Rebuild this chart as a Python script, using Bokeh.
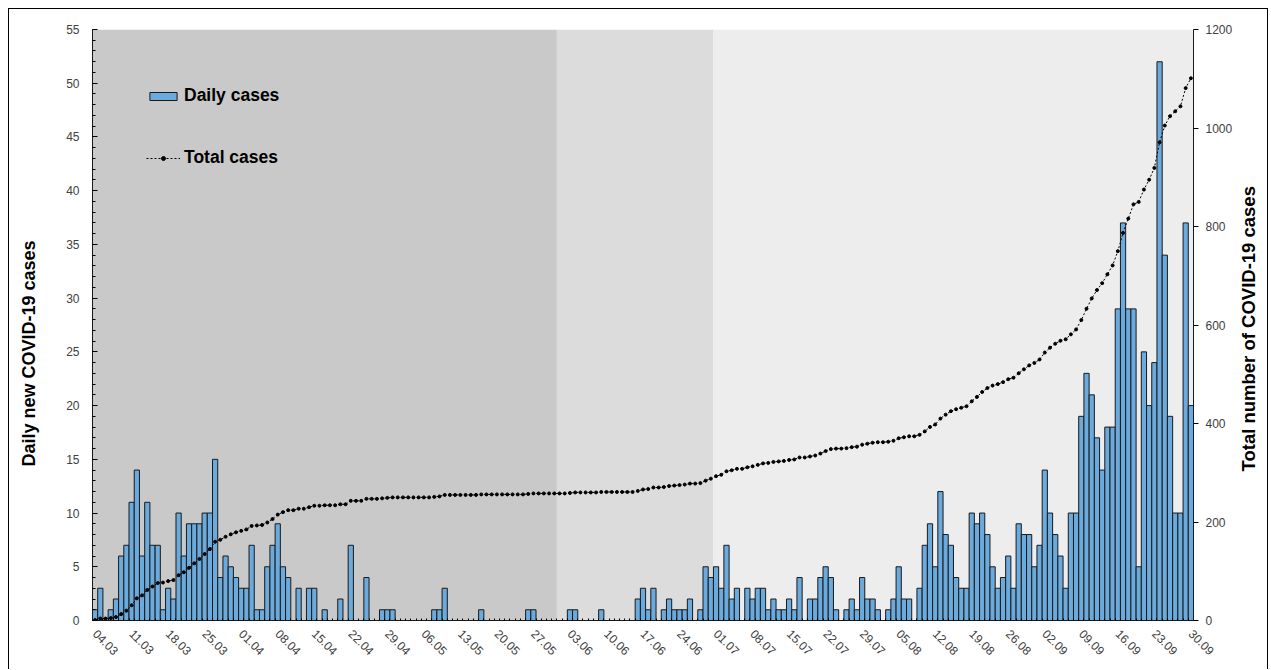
import numpy as np
from datetime import date, timedelta
from bokeh.plotting import figure
from bokeh.layouts import row
from bokeh.models import (Range1d, LinearAxis, FixedTicker, SingleIntervalTicker,
                          BoxAnnotation, Legend, LegendItem, Title)
from bokeh.embed import file_html
from bokeh.resources import INLINE

# ---- data ----
start_date = date(2020, 3, 4)
daily_march = [1, 3, 0, 1, 2, 6, 7, 11, 14, 6, 11, 7, 7, 1, 3, 2, 10, 6, 9, 9, 9, 10, 10, 15, 4, 6, 5, 4]  # 04.03-31.03
daily_april = [3, 3, 7, 1, 1, 5, 7, 9, 5, 4, 0, 3, 0, 3, 3, 0, 1, 0, 0, 2, 0, 7, 0, 0, 4, 0, 0, 1, 1, 1]
daily_may = [0, 0, 0, 0, 0, 0, 0, 1, 1, 3, 0, 0, 0, 0, 0, 0, 1, 0, 0, 0, 0, 0, 0, 0, 0, 1, 1, 0, 0, 0, 0]
daily_june = [0, 0, 1, 1, 0, 0, 0, 0, 1, 0, 0, 0, 0, 0, 0, 2, 3, 1, 3, 0, 1, 2, 1, 1, 1, 2, 0, 1, 5, 4]
daily_july = [5, 3, 7, 2, 3, 0, 3, 2, 3, 3, 1, 2, 1, 1, 2, 1, 4, 0, 2, 2, 4, 5, 4, 1, 0, 1, 2, 1, 4, 2, 2]
daily_august = [1, 0, 1, 2, 5, 2, 2, 0, 3, 7, 9, 5, 12, 8, 7, 4, 3, 3, 10, 9, 10, 8, 5, 3, 4, 6, 3, 9, 8, 8, 5]
daily_september = [7, 14, 10, 8, 6, 3, 10, 10, 19, 23, 21, 17, 14, 18, 18, 29, 37, 29, 29, 5, 25, 20, 24, 52,
                   34, 19, 10, 10, 37, 20]

phase_starts = ["04.03", "01.06", "01.07"]
phase_colors = ["#C9C9C9", "#DCDCDC", "#ECEDEC"]

left_title = "Daily new COVID-19 cases"
right_title = "Total number of COVID-19 cases"

daily = (daily_march + daily_april + daily_may + daily_june + daily_july
         + daily_august + daily_september)
n = len(daily)
day_labels = [(start_date + timedelta(days=i)).strftime("%d.%m") for i in range(n)]
total = np.cumsum(daily)
idx = np.arange(n)

FONT = "Liberation Sans"

p = figure(width=1226, height=660, output_backend="svg", toolbar_location=None,
           x_range=Range1d(-0.5, n - 0.5), y_range=Range1d(0, 55),
           min_border_left=83, min_border_right=39, min_border_top=20, min_border_bottom=49)
p.extra_y_ranges = {"total": Range1d(0, 1200)}
p.outline_line_color = None
p.xgrid.visible = False
p.ygrid.visible = False
p.background_fill_color = "white"
p.border_fill_color = "white"

# background phases
bounds = [day_labels.index(s) - 0.5 for s in phase_starts] + [n - 0.5]
for k, col in enumerate(phase_colors):
    p.add_layout(BoxAnnotation(left=bounds[k], right=bounds[k + 1], fill_color=col,
                               fill_alpha=1.0, line_color=None, level="underlay"))

bars = p.vbar(x=idx, top=daily, width=1.0, fill_color="#6AAADC", line_color="#1A1A1A",
              line_width=1)
line = p.line(idx, total, y_range_name="total", line_color="black", line_dash="2 2",
              line_width=1)
dots = p.scatter(idx, total, y_range_name="total", size=3, color="black")

# axes
xa = p.xaxis[0]
xa.ticker = FixedTicker(ticks=list(range(0, n, 7)),
                        minor_ticks=[i - 0.5 for i in range(n + 1)])
xa.major_label_overrides = {i: day_labels[i] for i in range(0, n, 7)}
xa.major_label_orientation = -np.pi / 4
xa.major_tick_in = 0
xa.major_tick_out = 0
xa.minor_tick_in = 2
xa.minor_tick_out = 0
xa.major_label_standoff = 11
xa.major_label_text_font = FONT
xa.major_label_text_font_size = "12px"
xa.major_label_text_color = "#404040"
xa.axis_line_color = "#1A1A1A"

ya = p.yaxis[0]
ya.ticker = SingleIntervalTicker(interval=5, num_minor_ticks=5)
ya.major_tick_in = 5
ya.major_tick_out = 0
ya.minor_tick_in = 3
ya.minor_tick_out = 0
ya.major_label_standoff = 13
ya.major_label_text_font = FONT
ya.major_label_text_font_size = "12px"
ya.major_label_text_color = "#404040"
ya.axis_line_color = "#1A1A1A"
# invisible spacer label: keeps a gap between the tick labels and the title
ya.axis_label = " "
ya.axis_label_text_font_size = "1px"
ya.axis_label_standoff = 13

ra = LinearAxis(y_range_name="total", ticker=SingleIntervalTicker(interval=200, num_minor_ticks=0))
ra.major_tick_in = 0
ra.major_tick_out = 5
ra.major_label_standoff = 7
ra.major_label_text_font = FONT
ra.major_label_text_font_size = "12px"
ra.major_label_text_color = "#404040"
ra.axis_line_color = "#1A1A1A"
p.add_layout(ra, "right")

p.add_layout(Title(text=left_title, align="left", offset=154, standoff=15,
                   text_font=FONT, text_font_size="18px", text_font_style="bold",
                   text_color="black"), "left")

legend = Legend(items=[LegendItem(label="Daily cases", renderers=[bars]),
                       LegendItem(label="Total cases", renderers=[line, dots])],
                location=(54, 452), padding=0, margin=0, spacing=41,
                glyph_width=34, glyph_height=10, label_height=20, label_standoff=4,
                label_text_font=FONT, label_text_font_size="17.5px",
                label_text_font_style="bold", label_text_color="black",
                background_fill_alpha=0, border_line_color=None)
p.add_layout(legend)

# narrow companion figure carrying the right-hand title (reads bottom-to-top)
p2 = figure(width=32, height=660, output_backend="svg", toolbar_location=None,
            x_axis_location=None, y_axis_location=None,
            min_border_left=0, min_border_right=0, min_border_top=20, min_border_bottom=49)
p2.outline_line_color = None
p2.background_fill_color = "white"
p2.border_fill_color = "white"
p2.grid.visible = False
p2.add_layout(Title(text=right_title, align="left", offset=149, standoff=0,
                    text_font=FONT, text_font_size="18.5px", text_font_style="bold",
                    text_color="black"), "left")

layout = row(p, p2, spacing=0)
layout.styles = {"border-left": "1px solid #000000", "border-top": "1px solid #000000",
                 "border-right": "1px solid #000000", "margin-left": "8px", "margin-top": "8px"}

open("out.html", "w").write(file_html(layout, INLINE))
